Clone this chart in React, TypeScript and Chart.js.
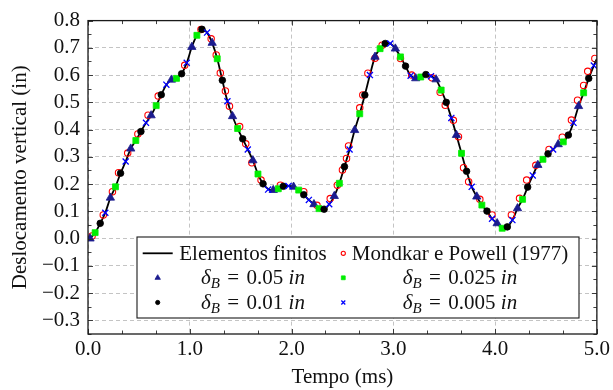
import React, { useEffect, useRef } from 'react';
import { Chart, registerables } from 'chart.js';

Chart.register(...registerables);

const FONT = '"Liberation Serif", "Times New Roman", serif';
const FS = 21;

// Axis ticks
const xTickValues = [0, 1, 2, 3, 4, 5];
const yTickValues = [-0.3, -0.2, -0.1, 0.0, 0.1, 0.2, 0.3, 0.4, 0.5, 0.6, 0.7, 0.8];

// Elementos finitos (solid line)
const feTime = [0.00, 0.02, 0.07, 0.12, 0.17, 0.22, 0.27, 0.32, 0.37, 0.42, 0.47, 0.52, 0.57, 0.62, 0.67, 0.72, 0.77, 0.82, 0.87, 0.92, 0.97,
  1.02, 1.07, 1.12, 1.17, 1.22, 1.27, 1.32, 1.37, 1.42, 1.47, 1.52, 1.57, 1.62, 1.67, 1.72, 1.77, 1.82, 1.87, 1.92, 1.97,
  2.02, 2.07, 2.12, 2.17, 2.22, 2.27, 2.32, 2.37, 2.42, 2.47, 2.52, 2.57, 2.62, 2.67, 2.72, 2.77, 2.82, 2.87, 2.92, 2.97,
  3.02, 3.07, 3.12, 3.17, 3.22, 3.27, 3.32, 3.37, 3.42, 3.47, 3.52, 3.57, 3.62, 3.67, 3.72, 3.77, 3.82, 3.87, 3.92, 3.97,
  4.02, 4.07, 4.12, 4.17, 4.22, 4.27, 4.32, 4.37, 4.42, 4.47, 4.52, 4.57, 4.62, 4.67, 4.72, 4.77, 4.82, 4.87, 4.92, 4.97, 5.00];
const feDisp = [0.000, 0.002, 0.022, 0.056, 0.095, 0.150, 0.190, 0.240, 0.283, 0.330, 0.360, 0.393, 0.425, 0.452, 0.488, 0.528, 0.565, 0.583, 0.590, 0.605, 0.645,
  0.703, 0.746, 0.768, 0.756, 0.718, 0.660, 0.581, 0.504, 0.449, 0.404, 0.366, 0.327, 0.287, 0.237, 0.201, 0.182, 0.178, 0.184, 0.192, 0.193,
  0.190, 0.178, 0.161, 0.142, 0.126, 0.110, 0.108, 0.126, 0.156, 0.203, 0.264, 0.327, 0.398, 0.458, 0.527, 0.600, 0.667, 0.697, 0.716, 0.716,
  0.697, 0.667, 0.633, 0.598, 0.588, 0.593, 0.602, 0.596, 0.584, 0.545, 0.500, 0.443, 0.380, 0.313, 0.247, 0.190, 0.154, 0.123, 0.101, 0.073,
  0.056, 0.038, 0.043, 0.068, 0.111, 0.144, 0.189, 0.232, 0.270, 0.291, 0.311, 0.327, 0.346, 0.355, 0.380, 0.425, 0.486, 0.535, 0.588, 0.635, 0.660];

// Mondkar e Powell (1977)
const mpTime = [0.04, 0.15, 0.24, 0.30, 0.39, 0.49, 0.59, 0.69, 0.95, 1.11, 1.21, 1.26, 1.30, 1.35, 1.39, 1.49, 1.55, 1.61, 1.70, 1.89,
  2.12, 2.25, 2.38, 2.45, 2.50, 2.54, 2.56, 2.67, 2.70, 2.75, 2.82, 2.89, 3.07, 3.18, 3.38, 3.46, 3.51, 3.59, 3.64, 3.69, 3.74, 3.85,
  3.97, 4.16, 4.24, 4.31, 4.40, 4.53, 4.66, 4.75, 4.81, 4.87, 4.91, 4.98];
const mpDisp = [0.010, 0.087, 0.172, 0.242, 0.314, 0.384, 0.453, 0.523, 0.636, 0.767, 0.733, 0.674, 0.608, 0.542, 0.486, 0.411, 0.348, 0.278, 0.215, 0.196,
  0.172, 0.122, 0.147, 0.196, 0.252, 0.294, 0.340, 0.480, 0.527, 0.607, 0.662, 0.710, 0.661, 0.600, 0.590, 0.537, 0.489, 0.434, 0.374, 0.260, 0.209, 0.144,
  0.087, 0.087, 0.148, 0.215, 0.269, 0.327, 0.372, 0.435, 0.508, 0.562, 0.614, 0.661];

// delta_B = 0.05 in
const t050 = [0.02, 0.22, 0.42, 0.62, 0.82, 1.02, 1.22, 1.42, 1.62, 1.82, 2.02, 2.22, 2.42, 2.62, 2.82, 3.02, 3.22, 3.42, 3.62, 3.82, 4.02, 4.22, 4.42, 4.62, 4.82];
const d050 = [0.000, 0.150, 0.330, 0.452, 0.583, 0.703, 0.718, 0.449, 0.287, 0.178, 0.190, 0.126, 0.156, 0.398, 0.667, 0.697, 0.588, 0.584, 0.380, 0.154, 0.056, 0.111, 0.270, 0.346, 0.486];

// delta_B = 0.025 in
const t025 = [0.07, 0.27, 0.47, 0.67, 0.87, 1.07, 1.27, 1.47, 1.67, 1.87, 2.07, 2.27, 2.47, 2.67, 2.87, 3.07, 3.27, 3.47, 3.67, 3.87, 4.07, 4.27, 4.47, 4.67, 4.87];
const d025 = [0.022, 0.190, 0.360, 0.488, 0.588, 0.746, 0.660, 0.404, 0.237, 0.183, 0.178, 0.110, 0.203, 0.458, 0.697, 0.667, 0.593, 0.545, 0.313, 0.123, 0.038, 0.144, 0.291, 0.355, 0.535];

// delta_B = 0.01 in
const t010 = [0.12, 0.32, 0.52, 0.72, 0.92, 1.12, 1.32, 1.52, 1.72, 1.92, 2.12, 2.32, 2.52, 2.72, 2.92, 3.12, 3.32, 3.52, 3.72, 3.92, 4.12, 4.32, 4.52, 4.72, 4.92];
const d010 = [0.056, 0.240, 0.393, 0.528, 0.605, 0.768, 0.581, 0.366, 0.201, 0.192, 0.161, 0.108, 0.264, 0.527, 0.716, 0.633, 0.602, 0.500, 0.247, 0.101, 0.043, 0.189, 0.311, 0.380, 0.588];

// delta_B = 0.005 in
const t005 = [0.17, 0.37, 0.57, 0.77, 0.97, 1.17, 1.37, 1.57, 1.77, 1.97, 2.17, 2.37, 2.57, 2.77, 2.97, 3.17, 3.37, 3.57, 3.77, 3.97, 4.17, 4.37, 4.57, 4.77, 4.97];
const d005 = [0.095, 0.283, 0.425, 0.565, 0.645, 0.756, 0.504, 0.327, 0.180, 0.193, 0.142, 0.126, 0.327, 0.600, 0.716, 0.598, 0.596, 0.443, 0.190, 0.073, 0.068, 0.232, 0.327, 0.425, 0.635];

const zip = (xs: number[], ys: number[]) => xs.map((x, i) => ({ x, y: ys[i] }));

function drawMarker(ctx: CanvasRenderingContext2D, style: string, x: number, y: number, r: number,
  fill: string, stroke: string, lw: number) {
  ctx.save();
  ctx.lineWidth = lw;
  ctx.fillStyle = fill;
  ctx.strokeStyle = stroke;
  ctx.setLineDash([]);
  ctx.beginPath();
  if (style === 'circle') {
    ctx.arc(x, y, r, 0, Math.PI * 2);
    ctx.fill();
    ctx.stroke();
  } else if (style === 'triangle') {
    for (let k = 0; k < 3; k++) {
      const a = -Math.PI / 2 + k * (2 * Math.PI / 3);
      const px = x + Math.cos(a) * r;
      const py = y + Math.sin(a) * r;
      if (k === 0) ctx.moveTo(px, py); else ctx.lineTo(px, py);
    }
    ctx.closePath();
    ctx.fill();
    ctx.stroke();
  } else if (style === 'rect') {
    const s = r * Math.SQRT1_2;
    ctx.rect(x - s, y - s, 2 * s, 2 * s);
    ctx.fill();
    ctx.stroke();
  } else if (style === 'crossRot') {
    const s = r * Math.SQRT1_2;
    ctx.moveTo(x - s, y - s); ctx.lineTo(x + s, y + s);
    ctx.moveTo(x - s, y + s); ctx.lineTo(x + s, y - s);
    ctx.stroke();
  }
  ctx.restore();
}

function drawRichLabel(ctx: CanvasRenderingContext2D, text: string, cx: number, baseY: number) {
  const m = text.match(/^(.)_(\w) = (.+) (in)$/);
  type Part = { t: string; font: string; dy: number };
  let parts: Part[];
  if (m) {
    parts = [
      { t: m[1], font: `italic ${FS}px ${FONT}`, dy: 0 },
      { t: m[2], font: `italic ${Math.round(FS * 0.72)}px ${FONT}`, dy: 4 },
      { t: '  =  ', font: `${Math.round(FS * 0.8)}px ${FONT}`, dy: 0 },
      { t: m[3] + ' ', font: `${FS}px ${FONT}`, dy: 0 },
      { t: m[4], font: `italic ${FS}px ${FONT}`, dy: 0 },
    ];
  } else {
    parts = [{ t: text, font: `${FS}px ${FONT}`, dy: 0 }];
  }
  let total = 0;
  const widths = parts.map(p => { ctx.font = p.font; const w = ctx.measureText(p.t).width; total += w; return w; });
  let x = cx - total / 2;
  ctx.textAlign = 'left';
  ctx.textBaseline = 'alphabetic';
  ctx.fillStyle = '#111';
  parts.forEach((p, i) => {
    ctx.font = p.font;
    if (p.t.trim() === '=') {
      ctx.font = `${FS}px ${FONT}`;
      const ew = ctx.measureText('=').width;
      ctx.fillText('=', x + (widths[i] - ew) / 2, baseY);
    } else {
      ctx.fillText(p.t, x, baseY + p.dy);
    }
    x += widths[i];
  });
}

const framePlugin = {
  id: 'frameAndLegend',
  afterDraw(chart: any) {
    const { ctx, chartArea: a, scales } = chart;
    const xs = scales.x, ys = scales.y;
    ctx.save();
    ctx.strokeStyle = '#2a2a2a';
    ctx.lineWidth = 0.9;
    ctx.setLineDash([]);
    const seg = (x1: number, y1: number, x2: number, y2: number) => {
      ctx.beginPath(); ctx.moveTo(x1, y1); ctx.lineTo(x2, y2); ctx.stroke();
    };
    // x ticks (inward, bottom and top)
    const xMinor: number[] = [];
    for (let i = 0; i < xTickValues.length - 1; i++) {
      const step = (xTickValues[i + 1] - xTickValues[i]) / 3;
      xMinor.push(xTickValues[i] + step, xTickValues[i] + 2 * step);
    }
    const xTick = (v: number, len: number) => {
      const px = Math.round(xs.getPixelForValue(v)) + 0.5;
      seg(px, a.bottom, px, a.bottom - len);
      seg(px, a.top, px, a.top + len);
    };
    xTickValues.forEach(v => xTick(v, 5));
    xMinor.forEach(v => xTick(v, 3.5));
    // y ticks (inward, left and right)
    const yMinor: number[] = [];
    for (let i = 0; i < yTickValues.length; i++) {
      yMinor.push(yTickValues[i] - 0.05);
    }
    const yTick = (v: number, len: number) => {
      const py = Math.round(ys.getPixelForValue(v)) + 0.5;
      seg(a.left, py, a.left + len, py);
      seg(a.right, py, a.right - len, py);
    };
    yTickValues.forEach(v => yTick(v, 5));
    yMinor.forEach(v => yTick(v, 3.5));
    // frame
    ctx.strokeStyle = '#1a1a1a';
    ctx.lineWidth = 1.3;
    ctx.strokeRect(a.left, a.top, a.right - a.left, a.bottom - a.top);

    // legend
    const box = { left: 137, top: 237, right: 579, bottom: 318 };
    ctx.fillStyle = '#ffffff';
    ctx.fillRect(box.left, box.top, box.right - box.left, box.bottom - box.top);
    ctx.strokeStyle = '#1a1a1a';
    ctx.lineWidth = 1.1;
    ctx.strokeRect(box.left, box.top, box.right - box.left, box.bottom - box.top);

    const rows = [253.3, 277.8, 302.5];
    const symX = [157.7, 343.3];
    const textCX = [253, 460];
    const legendOrder = [0, 1, 2, 3, 4, 5];
    legendOrder.forEach((di, idx) => {
      const ds = chart.data.datasets[di];
      const col = idx % 2;
      const row = Math.floor(idx / 2);
      const y = rows[row];
      if (ds.showLine) {
        ctx.save();
        ctx.strokeStyle = ds.borderColor;
        ctx.lineWidth = ds.borderWidth;
        seg(symX[col] - 15, y, symX[col] + 15, y);
        ctx.restore();
      } else {
        drawMarker(ctx, ds.pointStyle, symX[col], y, ds.pointRadius * 0.65,
          ds.backgroundColor, ds.borderColor, ds.borderWidth);
      }
      drawRichLabel(ctx, ds.label, textCX[col], y + 6.5);
    });
    ctx.restore();
  },
};

export default function App() {
  const ref = useRef<HTMLCanvasElement | null>(null);
  useEffect(() => {
    if (!ref.current) return;
    const tickFont = { family: FONT, size: FS };
    const chart = new Chart(ref.current, {
      type: 'scatter',
      data: {
        datasets: [
          {
            label: 'Elementos finitos',
            data: zip(feTime, feDisp),
            showLine: true,
            borderColor: '#000000',
            backgroundColor: '#000000',
            borderWidth: 1.8,
            pointRadius: 0,
            tension: 0.3,
            order: 6,
          },
          {
            label: 'Mondkar e Powell (1977)',
            data: zip(mpTime, mpDisp),
            showLine: false,
            pointStyle: 'circle',
            pointRadius: 3.2,
            borderWidth: 1.1,
            borderColor: '#ff0000',
            backgroundColor: 'rgba(255,255,255,0)',
            order: 5,
          },
          {
            label: 'δ_B = 0.05 in',
            data: zip(t050, d050),
            showLine: false,
            pointStyle: 'triangle',
            pointRadius: 4.8,
            borderWidth: 0.8,
            borderColor: '#1b1b8e',
            backgroundColor: '#1b1b8e',
            order: 4,
          },
          {
            label: 'δ_B = 0.025 in',
            data: zip(t025, d025),
            showLine: false,
            pointStyle: 'rect',
            pointRadius: 4.2,
            borderWidth: 0.8,
            borderColor: '#00ee00',
            backgroundColor: '#00ee00',
            order: 3,
          },
          {
            label: 'δ_B = 0.01 in',
            data: zip(t010, d010),
            showLine: false,
            pointStyle: 'circle',
            pointRadius: 3.3,
            borderWidth: 0.8,
            borderColor: '#000000',
            backgroundColor: '#000000',
            order: 2,
          },
          {
            label: 'δ_B = 0.005 in',
            data: zip(t005, d005),
            showLine: false,
            pointStyle: 'crossRot',
            pointRadius: 4.3,
            borderWidth: 1.3,
            borderColor: '#0000ff',
            backgroundColor: '#0000ff',
            order: 1,
          },
        ],
      },
      options: {
        responsive: false,
        animation: false,
        events: [],
        layout: { padding: { top: 19, right: 13, left: 0, bottom: 0 } },
        plugins: {
          legend: { display: false },
          tooltip: { enabled: false },
        },
        scales: {
          x: {
            type: 'linear',
            min: 0,
            max: 5,
            afterBuildTicks: (s: any) => { s.ticks = xTickValues.map(v => ({ value: v })); },
            afterFit: (s: any) => { s.height = 56; },
            ticks: {
              font: tickFont,
              color: '#111',
              padding: 3,
              maxRotation: 0,
              autoSkip: false,
              callback: (v: any) => Number(v).toFixed(1),
            },
            grid: { color: '#c4c4c4', lineWidth: 1, drawTicks: false },
            border: { display: false, dash: [4, 3] },
            title: {
              display: true,
              text: 'Tempo (ms)',
              font: { family: FONT, size: FS },
              color: '#111',
              padding: { top: 0, bottom: 0 },
            },
          },
          y: {
            type: 'linear',
            min: -0.35,
            max: 0.8,
            afterBuildTicks: (s: any) => { s.ticks = yTickValues.map(v => ({ value: v })); },
            afterFit: (s: any) => { s.width = 88; },
            ticks: {
              font: tickFont,
              color: '#111',
              padding: 8,
              autoSkip: false,
              callback: (v: any) => {
                const n = Number(v);
                const s = Math.abs(n).toFixed(1);
                return n < -1e-9 ? '\u2212' + s : s;
              },
            },
            grid: { color: '#c4c4c4', lineWidth: 1, drawTicks: false },
            border: { display: false, dash: [4, 3] },
            title: {
              display: true,
              text: 'Deslocamento vertical (in)',
              font: { family: FONT, size: FS },
              color: '#111',
              padding: { top: 8, bottom: 0 },
            },
          },
        },
      },
      plugins: [framePlugin],
    } as any);
    return () => chart.destroy();
  }, []);

  return (
    <div style={{ position: 'fixed', left: 0, top: 0, width: 613, height: 390, background: '#fff' }}>
      <canvas ref={ref} width={613} height={390} style={{ display: 'block', width: 613, height: 390 }} />
    </div>
  );
}
